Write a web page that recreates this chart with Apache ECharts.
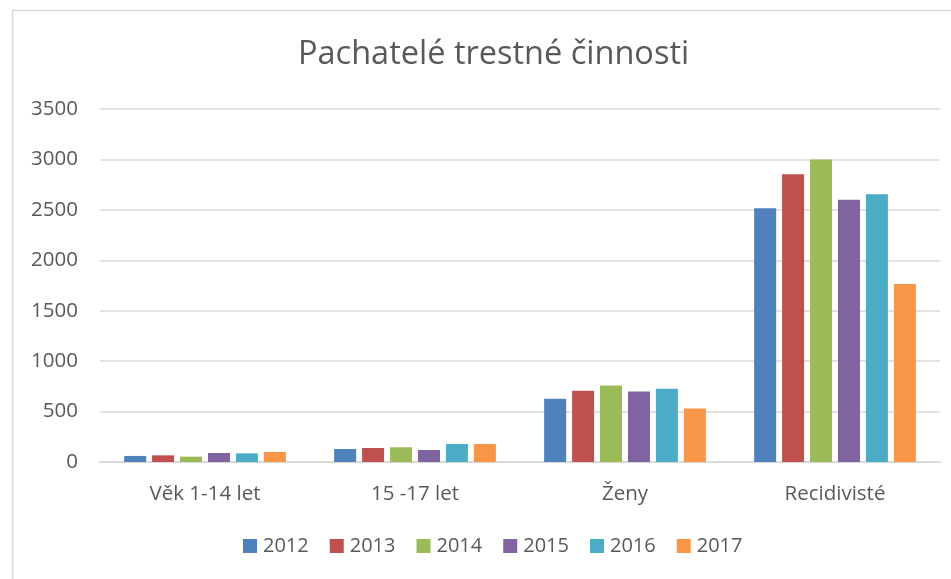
<!doctype html>
<html lang="cs">
<head>
<meta charset="utf-8">
<title>Pachatelé trestné činnosti</title>
<script src="https://cdn.jsdelivr.net/npm/echarts@6/dist/echarts.min.js"></script>
<style>
  html, body { margin: 0; padding: 0; background: #fff; }
  #main { width: 951px; height: 579px; }
</style>
</head>
<body>
<div id="main"></div>
<script>
var categories = ['Věk 1-14 let', '15 -17 let', 'Ženy', 'Recidivisté'];
var years = ['2012', '2013', '2014', '2015', '2016', '2017'];
var v2012 = [60, 129, 626, 2515];
var v2013 = [66, 139, 706, 2852];
var v2014 = [53, 146, 758, 3000];
var v2015 = [89, 119, 699, 2601];
var v2016 = [86, 179, 726, 2654];
var v2017 = [99, 179, 530, 1764];
var yearValues = [v2012, v2013, v2014, v2015, v2016, v2017];
var colors = ['#4F81BD', '#C0504D', '#9BBB59', '#8064A2', '#4BACC6', '#F79646'];

var font = 'Open Sans';
var textColor = '#595959';

var chart = echarts.init(document.getElementById('main'));

var series = years.map(function (y, i) {
  return {
    name: y,
    type: 'bar',
    data: yearValues[i],
    barWidth: 22,
    barGap: '27%',
    itemStyle: { color: colors[i] }
  };
});

chart.setOption({
  color: colors,
  animation: false,
  graphic: [{
    type: 'rect',
    shape: { x: 12.5, y: 10.5, width: 960, height: 580 },
    style: { fill: 'none', stroke: '#D9D9D9', lineWidth: 1.5 }
  }],
  title: {
    text: 'Pachatelé trestné činnosti',
    left: 293,
    top: 33,
    textStyle: { fontFamily: font, fontSize: 32.5, fontWeight: 'normal', color: textColor }
  },
  legend: {
    data: years,
    left: 238,
    top: 531,
    icon: 'rect',
    itemWidth: 14,
    itemHeight: 14,
    itemGap: 21,
    textStyle: { fontFamily: font, fontSize: 20, color: textColor, padding: [0, 0, 0, 1] }
  },
  grid: { left: 100, right: 11, top: 109, bottom: 117, containLabel: false },
  xAxis: {
    type: 'category',
    data: categories,
    axisTick: { show: false },
    axisLine: { lineStyle: { color: '#D9D9D9', width: 2 } },
    axisLabel: { fontFamily: font, fontSize: 20.5, color: textColor, margin: 22 }
  },
  yAxis: {
    type: 'value',
    min: 0,
    max: 3500,
    interval: 500,
    axisLine: { show: false },
    axisTick: { show: false },
    splitLine: { lineStyle: { color: '#D9D9D9', width: 1.5 } },
    axisLabel: {
      fontFamily: font, fontSize: 20.5, color: textColor, margin: 22,
      formatter: function (v) { return String(v); }
    }
  },
  series: series
});
</script>
</body>
</html>
